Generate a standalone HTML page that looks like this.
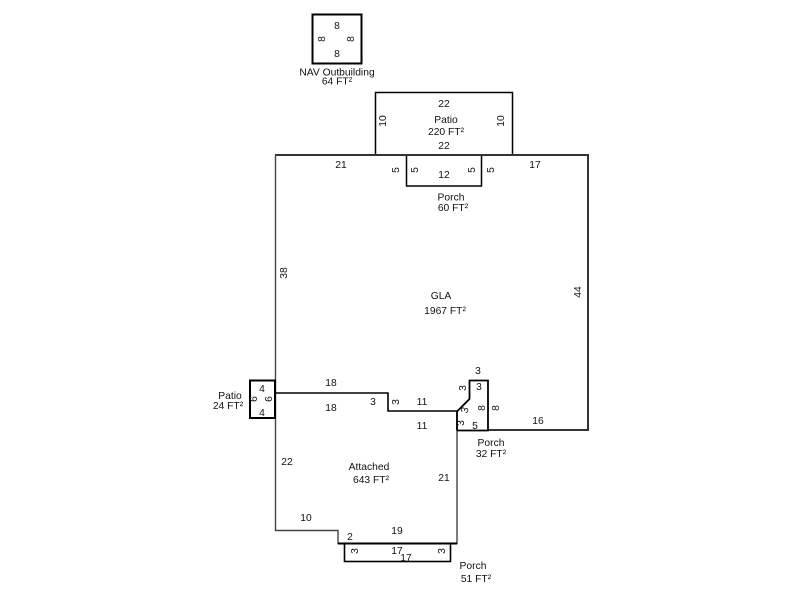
<!DOCTYPE html>
<html><head><meta charset="utf-8"><style>
html,body{margin:0;padding:0;background:#fff}
svg{display:block}
text{font-family:"Liberation Sans",sans-serif;font-size:10.3px;fill:#111;text-anchor:middle}
.l{fill:none;stroke:#000;stroke-linejoin:miter}
</style></head><body>
<svg width="800" height="600" viewBox="0 0 800 600">
<g class="l">
<rect x="312.500" y="14.500" width="49" height="49" stroke-width="2"/>
<rect x="375.500" y="92.500" width="137" height="62.500" stroke-width="1.500"/>
<rect x="406.500" y="155" width="75" height="31" stroke-width="1.500"/>
<path d="M275 155H588V430H488" stroke="#333" stroke-width="2"/>
<path d="M275.500 155V530.500H338V543.500H457V411" stroke="#444" stroke-width="1.400"/>
<path d="M275 393H388V411H457" stroke-width="1.600"/>
<path d="M338 543.500H457" stroke-width="2"/>
<rect x="250" y="380.500" width="25" height="37.500" stroke-width="2"/>
<path d="M457 430.500H488V380.500H469.500V399L457 411.500V430.500" stroke-width="1.800"/>
<rect x="344.500" y="543.500" width="106" height="18" stroke-width="1.600"/>
</g>
<text x="337" y="29">8</text>
<text x="337" y="57">8</text>
<text x="337" y="75.500">NAV Outbuilding</text>
<text x="337" y="84.500">64 FT²</text>
<text x="444" y="107">22</text>
<text x="446" y="123">Patio</text>
<text x="446" y="135">220 FT²</text>
<text x="444" y="149">22</text>
<text x="341" y="168">21</text>
<text x="444" y="178">12</text>
<text x="535" y="168">17</text>
<text x="451" y="200.500">Porch</text>
<text x="453" y="211">60 FT²</text>
<text x="441" y="299">GLA</text>
<text x="445" y="314">1967 FT²</text>
<text x="230" y="399">Patio</text>
<text x="228" y="409">24 FT²</text>
<text x="262" y="392">4</text>
<text x="262" y="416">4</text>
<text x="331" y="386">18</text>
<text x="331" y="411">18</text>
<text x="373" y="405">3</text>
<text x="422" y="405">11</text>
<text x="422" y="429">11</text>
<text x="478" y="374">3</text>
<text x="479" y="390">3</text>
<text x="475" y="429">5</text>
<text x="538" y="424">16</text>
<text x="491" y="446">Porch</text>
<text x="491" y="457">32 FT²</text>
<text x="287" y="465">22</text>
<text x="369" y="470">Attached</text>
<text x="371" y="483">643 FT²</text>
<text x="444" y="481">21</text>
<text x="306" y="521">10</text>
<text x="350" y="540">2</text>
<text x="397" y="534">19</text>
<text x="397" y="554">17</text>
<text x="406" y="561">17</text>
<text x="473" y="569">Porch</text>
<text x="476" y="582">51 FT²</text>
<g>
<text transform="translate(325,39) rotate(-90)">8</text>
<text transform="translate(354,39) rotate(-90)">8</text>
<text transform="translate(386,121) rotate(-90)">10</text>
<text transform="translate(504,121) rotate(-90)">10</text>
<text transform="translate(399,170) rotate(-90)">5</text>
<text transform="translate(418,170) rotate(-90)">5</text>
<text transform="translate(475,170) rotate(-90)">5</text>
<text transform="translate(494,170) rotate(-90)">5</text>
<text transform="translate(287,273) rotate(-90)">38</text>
<text transform="translate(581,292) rotate(-90)">44</text>
<text transform="translate(257,399) rotate(-90)">6</text>
<text transform="translate(272,399) rotate(-90)">6</text>
<text transform="translate(399,402) rotate(-90)">3</text>
<text transform="translate(466,388) rotate(-90)">3</text>
<text transform="translate(468,411) rotate(-75)">3</text>
<text transform="translate(464,423) rotate(-90)">3</text>
<text transform="translate(485,408) rotate(-90)">8</text>
<text transform="translate(499,408) rotate(-90)">8</text>
<text transform="translate(358,551) rotate(-90)">3</text>
<text transform="translate(445,551) rotate(-90)">3</text>
</g>
</svg>
</body></html>
